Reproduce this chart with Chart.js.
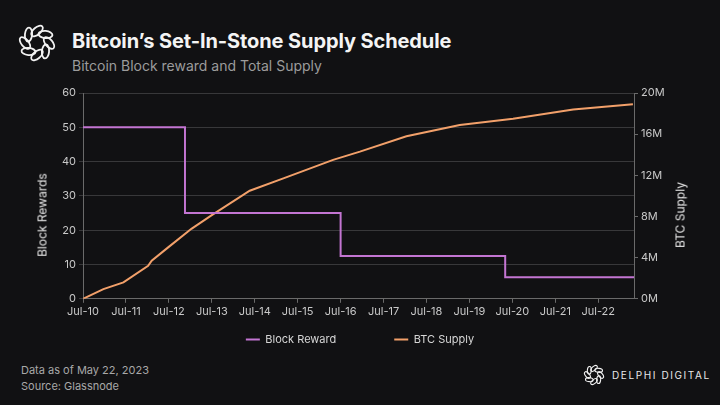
<!DOCTYPE html>
<html>
<head>
<meta charset="utf-8">
<script src="https://cdn.jsdelivr.net/npm/chart.js@4.4.0/dist/chart.umd.min.js"></script>
<style>
  html, body { margin: 0; padding: 0; background: #111113; }
  body { width: 720px; height: 405px; position: relative; overflow: hidden; font-family: Inter, "Noto Sans", sans-serif; }
  #title { position: absolute; left: 72px; top: 29px; color: #f4f4f4; font-size: 20px; font-weight: 700; letter-spacing: -0.1px; }
  #subtitle { position: absolute; left: 72px; top: 57px; color: #9c9c9c; font-size: 14px; }
  #foot { position: absolute; left: 21px; top: 362px; color: #a8a8a8; font-size: 11px; line-height: 16px; }
  #brand { position: absolute; left: 612px; top: 369px; color: #e8e8e8; font-size: 10px; letter-spacing: 1.6px; white-space: nowrap; }
  #wrap { position: absolute; left: 0; top: 80px; width: 720px; height: 279px; }
  .ytitle { position: absolute; color: #e6e6e6; font-size: 12px; white-space: nowrap; transform: translate(-50%, -50%) rotate(-90deg); }
  svg { position: absolute; }
</style>
</head>
<body>
<svg id="logo" width="40" height="40" style="left:17px;top:23px" viewBox="-20 -20 40 40"></svg>
<div id="title">Bitcoin’s Set-In-Stone Supply Schedule</div>
<div id="subtitle">Bitcoin Block reward and Total Supply</div>
<div id="wrap"><canvas id="chart"></canvas></div>
<div class="ytitle" style="left:42px;top:215px">Block Rewards</div>
<div class="ytitle" style="left:680px;top:215px">BTC Supply</div>
<div id="foot">Data as of May 22, 2023<br>Source: Glassnode</div>
<svg id="logo2" width="22" height="22" style="left:583px;top:364px" viewBox="-20 -20 40 40"></svg>
<div id="brand">DELPHI DIGITAL</div>
<script>
// months since Jul-2010
const rewardMonths = [0, 28.5, 28.5, 72, 72, 118, 118, 154];
const rewardValues = [50, 50, 25, 25, 12.5, 12.5, 6.25, 6.25];

const supplyMonths = [0, 5.7, 11.3, 18.2, 19.2, 23.8, 30.3, 35.9, 46.6, 56, 69.9, 77.4, 90.4, 105.3, 120.2, 137, 153.7];
const supplyValues = [0, 0.94, 1.6, 3.2, 3.7, 5.0, 6.8, 8.1, 10.5, 11.7, 13.5, 14.3, 15.8, 16.9, 17.5, 18.4, 18.9];

const yearLabels = ['Jul-10', 'Jul-11', 'Jul-12', 'Jul-13', 'Jul-14', 'Jul-15', 'Jul-16',
  'Jul-17', 'Jul-18', 'Jul-19', 'Jul-20', 'Jul-21', 'Jul-22'];

function drawLogo(id, sw) {
  const svg = document.getElementById(id);
  let s = '';
  for (let i = 0; i < 8; i++) {
    const a = i * 45;
    s += '<ellipse cx="0" cy="-12" rx="3.6" ry="7" transform="rotate(' + a + ') rotate(50 0 -12)" fill="none" stroke="#f2f2f2" stroke-width="' + sw + '"/>';
  }
  svg.innerHTML = s;
}
drawLogo('logo', 1.8);
drawLogo('logo2', 2);

const tickColor = '#c9c9c9';
const gridColor = '#38383a';

new Chart(document.getElementById('chart'), {
  type: 'line',
  data: {
    datasets: [{
      label: 'Block Reward',
      data: rewardMonths.map((m, i) => ({ x: m, y: rewardValues[i] })),
      borderColor: '#c375d2',
      backgroundColor: '#c375d2',
      borderWidth: 2,
      pointRadius: 0,
      yAxisID: 'y'
    }, {
      label: 'BTC Supply',
      data: supplyMonths.map((m, i) => ({ x: m, y: supplyValues[i] })),
      borderColor: '#f2a06a',
      backgroundColor: '#f2a06a',
      borderWidth: 2,
      pointRadius: 0,
      yAxisID: 'y1'
    }]
  },
  options: {
    responsive: true,
    maintainAspectRatio: false,
    animation: false,
    layout: { padding: { top: 13, left: 0, right: 0, bottom: 4 } },
    plugins: {
      legend: {
        position: 'bottom',
        labels: {
          color: '#d6d6d6',
          font: { family: 'Inter', size: 11 },
          usePointStyle: true,
          pointStyle: 'line',
          pointStyleWidth: 14,
          boxWidth: 14,
          padding: 14,
          // widen the gap after the first item
          generateLabels: chart => Chart.defaults.plugins.legend.labels.generateLabels(chart)
            .map((l, i) => Object.assign(l, { text: i === 0 ? l.text + '\u2003\u2003\u2003\u2003' : l.text }))
        }
      },
      tooltip: { enabled: false }
    },
    scales: {
      x: {
        type: 'linear',
        min: 0,
        max: 154,
        ticks: {
          stepSize: 12,
          color: tickColor,
          font: { family: 'Inter', size: 11 },
          maxRotation: 0,
          padding: 2,
          callback: v => yearLabels[v / 12]
        },
        grid: { display: true, drawOnChartArea: false, color: '#6a6a6a', tickLength: 4 },
        border: { color: '#6a6a6a' }
      },
      y: {
        position: 'left',
        min: 0,
        max: 60,
        ticks: { stepSize: 10, color: tickColor, font: { family: 'Inter', size: 11 }, padding: 3 },
        grid: { color: gridColor, tickLength: 4 },
        border: { color: '#6a6a6a' },
        afterFit: s => { s.width = 83; }
      },
      y1: {
        position: 'right',
        min: 0,
        max: 20,
        ticks: { stepSize: 4, color: tickColor, font: { family: 'Inter', size: 11 }, padding: 3, callback: v => v + 'M' },
        grid: { drawOnChartArea: false, color: '#6a6a6a', tickLength: 4 },
        border: { color: '#6a6a6a' },
        afterFit: s => { s.width = 86; }
      }
    }
  }
});
</script>
</body>
</html>
